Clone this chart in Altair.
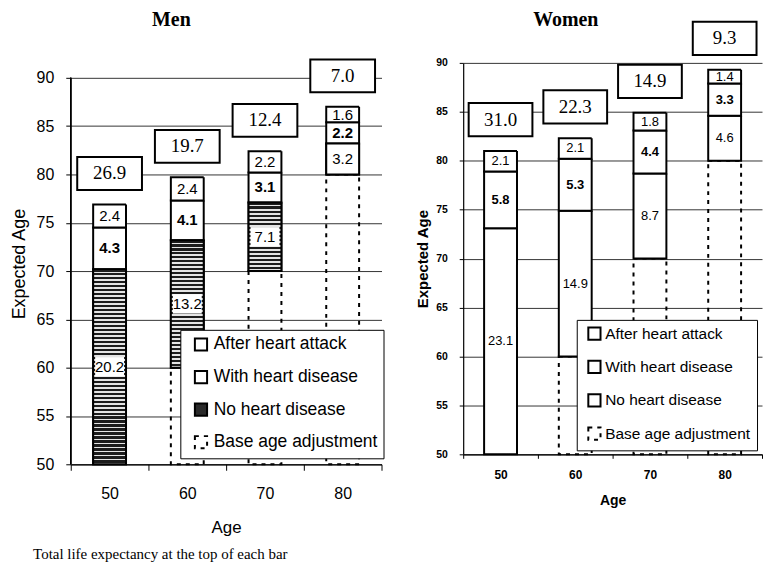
import altair as alt
import pandas as pd

# ---------------- data ----------------
ages = ["50", "60", "70", "80"]
axis_min = 50
axis_max = 90
categories = ["After heart attack", "With heart disease", "No heart disease", "Base age adjustment"]

men_no = [20.2, 13.2, 7.1, 3.2]
men_with = [4.3, 4.1, 3.1, 2.2]
men_after = [2.4, 2.4, 2.2, 1.6]
men_total = [26.9, 19.7, 12.4, 7.0]

women_no = [23.1, 14.9, 8.7, 4.6]
women_with = [5.8, 5.3, 4.4, 3.3]
women_after = [2.1, 2.1, 1.8, 1.4]
women_total = [31.0, 22.3, 14.9, 9.3]


def segments(no, wi, af):
    rows = []
    for a, n, w, f in zip(ages, no, wi, af):
        start = float(a)
        if start > axis_min:
            rows.append(dict(age=a, cat="Base age adjustment", y0=axis_min, y1=start,
                             val=start - axis_min, mid=(axis_min + start) / 2))
        y = start
        for cat, v in (("No heart disease", n), ("With heart disease", w), ("After heart attack", f)):
            rows.append(dict(age=a, cat=cat, y0=round(y, 2), y1=round(y + v, 2), val=v, mid=y + v / 2))
            y += v
    return pd.DataFrame(rows)


def totals(total):
    return pd.DataFrame({"age": ages, "total": total,
                         "top": [round(float(a) + t, 2) for a, t in zip(ages, total)]})


def stripes(n, dark="#1c1c1c", light="#e4e4e4", frac=0.6):
    if n <= 0:
        return "white"
    stops = []
    for i in range(n):
        a = i / n
        b = min((i + frac) / n, 1)
        c = min((i + 1) / n, 1)
        stops += [{"offset": a, "color": dark}, {"offset": b, "color": dark},
                  {"offset": b, "color": light}, {"offset": c, "color": light}]
    return {"gradient": "linear", "x1": 0, "y1": 0, "x2": 0, "y2": 1, "stops": stops}


SANS = "Liberation Sans"
SERIF = "Liberation Serif"


def panel(name, no, wi, af, total, fills, c):
    seg = segments(no, wi, af)
    tot = totals(total)
    bw = c["bw"]
    ppu = c["ppu"]
    top_dom = axis_max + c["extra"] / ppu
    height = round((top_dom - axis_min) * ppu)

    xenc = alt.X("age:N", sort=ages,
                 scale=alt.Scale(domain=ages, paddingInner=0, paddingOuter=0),
                 axis=alt.Axis(title="Age", labelAngle=0, tickBand="extent",
                               labelFont=SANS, labelFontSize=c["xlf"], labelFontWeight=c["w"],
                               labelColor="black", labelPadding=c["xlp"],
                               titleFont=SANS, titleFontSize=c["xtf"], titleFontWeight=c["w"],
                               titleColor="black", titlePadding=c["xtp"],
                               tickSize=c["xts"], tickColor="black", domainColor="black",
                               domainWidth=1.2, grid=False))
    yenc = alt.Y("y0:Q", scale=alt.Scale(domain=[axis_min, top_dom], nice=False, zero=False),
                 axis=alt.Axis(title="Expected Age", values=list(range(axis_min, axis_max + 1, 5)),
                               labelFont=SANS, labelFontSize=c["ylf"], labelFontWeight=c["w"],
                               labelColor="black", labelPadding=c["ylp"],
                               titleFont=SANS, titleFontSize=c["ytf"], titleFontWeight=c["w"],
                               titleColor="black", titlePadding=c["ytp"],
                               tickSize=c["yts"], tickColor="black", domain=c["extra"] == 0,
                               domainColor="black", domainWidth=1.2,
                               grid=True, gridColor="black", gridWidth=1, gridOpacity=0.8))

    leg = alt.Legend(title=None, orient="none", legendX=c["lx"], legendY=c["ly"],
                     symbolType="square", symbolSize=150, symbolStrokeColor="black",
                     symbolStrokeWidth=2, labelFont=SANS, labelFontSize=c["lf"],
                     labelColor="black", labelOffset=c["lo"], symbolOffset=c["so"],
                     rowPadding=c["rp"], padding=6, strokeColor="black",
                     fillColor="white", cornerRadius=0, labelLimit=400)

    bars = alt.Chart(seg).mark_bar(width=bw, strokeWidth=2).encode(
        x=xenc, y=yenc, y2="y1:Q",
        fill=alt.Fill("cat:N", scale=alt.Scale(domain=categories, range=fills), legend=leg),
        stroke=alt.Stroke("cat:N", scale=alt.Scale(
            domain=categories, range=["black", "black", "black", "black"]), legend=leg),
        strokeDash=alt.StrokeDash("cat:N", scale=alt.Scale(
            domain=categories, range=[[1, 0], [1, 0], [1, 0], [4, 5]]), legend=leg),
    )
    layers = [bars]

    if c["extra"] > 0:
        layers.append(alt.Chart(tot).mark_rule(color="black", strokeWidth=1.2).encode(
            x=alt.value(0), y=alt.datum(axis_min), y2=alt.datum(axis_max)))

    if c["hatch"]:
        for a, v, n in zip(ages, no, c["stripes"]):
            layers.append(
                alt.Chart(seg).transform_filter(
                    (alt.datum.age == a) & (alt.datum.cat == "No heart disease")
                ).mark_bar(width=bw, fill=stripes(n), stroke="black", strokeWidth=2).encode(
                    x="age:N", y="y0:Q", y2="y1:Q")
            )
        layers.append(
            alt.Chart(seg).transform_filter(alt.datum.cat == "No heart disease")
            .transform_calculate(b0="datum.mid - 1.0", b1="datum.mid + 1.0")
            .mark_bar(width=bw - 4, fill="white", strokeWidth=0)
            .encode(x="age:N", y="b0:Q", y2="b1:Q")
        )

    layers.append(
        alt.Chart(seg).transform_filter(
            alt.FieldOneOfPredicate(field="cat", oneOf=["No heart disease", "After heart attack"]))
        .mark_text(font=SANS, fontSize=c["sf"], color="black")
        .encode(x="age:N", y="mid:Q", text=alt.Text("val:Q", format=".1f"))
    )
    layers.append(
        alt.Chart(seg).transform_filter(alt.datum.cat == "With heart disease")
        .mark_text(font=SANS, fontSize=c["sf"], fontWeight="bold", color="black")
        .encode(x="age:N", y="mid:Q", text=alt.Text("val:Q", format=".1f"))
    )
    boxes = alt.Chart(tot).transform_calculate(
        b0="datum.top + 1.5", b1="datum.top + 4.9", bm="datum.top + 3.2")
    layers.append(boxes.mark_bar(width=c["boxw"], fill="white", stroke="black", strokeWidth=2)
                  .encode(x="age:N", y="b0:Q", y2="b1:Q"))
    layers.append(boxes.mark_text(font=SERIF, fontSize=19, color="black")
                  .encode(x="age:N", y="bm:Q", text=alt.Text("total:Q", format=".1f")))

    return alt.layer(*layers).properties(
        width=c["wd"], height=height,
        title=alt.TitleParams(name, font=SERIF, fontSize=20, fontWeight="bold", color="black",
                              anchor="middle", frame="group", dx=c["tdx"], offset=c["toff"],
                              baseline="bottom"),
    )


men_cfg = dict(wd=312, ppu=9.7, extra=15, bw=33, boxw=65, w="normal", hatch=True,
               stripes=[49, 32, 17, 0],
               xlf=16, xlp=15, xtf=17, xtp=18, xts=6,
               ylf=16, ylp=12, ytf=18, ytp=8, yts=5,
               lx=110, ly=268, lf=17.5, lo=4, so=6, rp=11.7, sf=15, tdx=-55, toff=8.6)
women_cfg = dict(wd=300, ppu=9.825, extra=0, bw=33, boxw=64, w="bold", hatch=False,
                 xlf=12, xlp=11, xtf=14, xtp=13, xts=4,
                 ylf=10.5, ylp=12, ytf=15, ytp=5, yts=4,
                 lx=114, ly=258, lf=15.5, lo=3, so=4, rp=12.5, sf=13, tdx=-47, toff=-29.3)

men = panel("Men", men_no, men_with, men_after, men_total,
            ["white", "white", "#2a2a2a", "transparent"], men_cfg)
women = panel("Women", women_no, women_with, women_after, women_total,
              ["white", "white", "white", "transparent"], women_cfg)

chart = alt.hconcat(men, women, spacing=31).resolve_scale(
    x="independent", y="independent", fill="independent", stroke="independent",
    strokeDash="independent"
).resolve_legend(fill="independent", stroke="independent", strokeDash="independent").properties(
    title=alt.TitleParams("Total life expectancy at the top of each bar", orient="bottom",
                          anchor="start", font=SERIF, fontSize=15, fontWeight="normal",
                          color="black", dx=23, offset=12),
    padding={"left": 2, "top": 0, "right": 0, "bottom": 0},
    background="white",
).configure_view(stroke=None)

chart.save("out.html", embed_options={"renderer": "svg", "actions": False})
